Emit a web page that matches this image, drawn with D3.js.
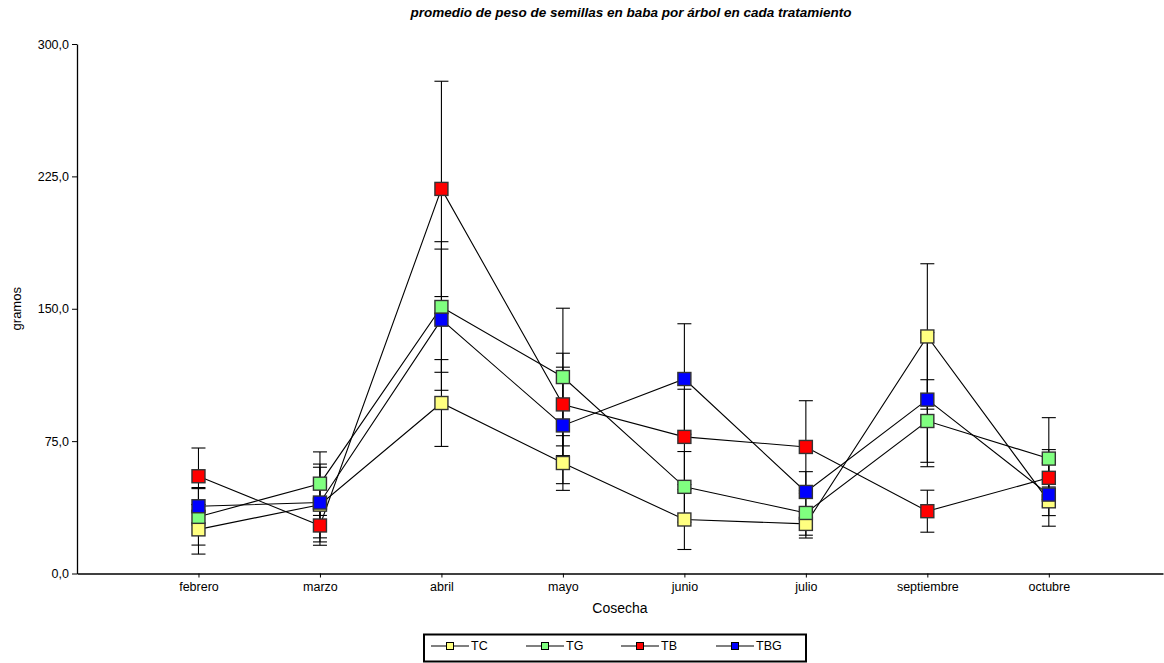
<!DOCTYPE html>
<html>
<head>
<meta charset="utf-8">
<script src="https://cdn.jsdelivr.net/npm/d3@7"></script>
<style>
  body { margin: 0; background: #fff; }
  svg { display: block; font-family: "Liberation Sans", Arial, sans-serif; }
</style>
</head>
<body>
<svg class="chart"></svg>
<script>
// Harvest months (x categories)
const months = ["febrero", "marzo", "abril", "mayo", "junio", "julio", "septiembre", "octubre"];

// Mean seed weight (g) per treatment, and error bar half-widths
const tcValues  = [25.0, 39.0, 96.6, 62.6, 30.6, 28.1, 134.3, 40.9];
const tcErrors  = [14.0, 23.0, 24.6, 15.5, 17.0, 8.0, 41.2, 8.1];
const tgValues  = [32.1, 50.9, 151.0, 111.3, 49.1, 34.3, 86.4, 65.1];
const tgErrors  = [16.0, 18.0, 37.0, 39.0, 20.0, 12.6, 23.4, 23.2];
const tbValues  = [55.1, 27.2, 217.9, 95.8, 77.4, 71.7, 35.3, 54.2];
const tbErrors  = [16.0, 9.3, 61.0, 29.0, 27.0, 26.2, 11.9, 16.0];
const tbgValues = [38.1, 40.2, 143.8, 83.9, 110.2, 46.2, 98.5, 44.7];
const tbgErrors = [10.6, 20.0, 40.0, 33.0, 31.3, 11.5, 38.0, 17.9];

const yTicks = [0, 75, 150, 225, 300];

const seriesNames = ["TC", "TG", "TB", "TBG"];
const seriesColors = ["#ffff80", "#80ff80", "#ff0000", "#0000ff"];

const series = [
  { name: "TC", values: tcValues, errors: tcErrors },
  { name: "TG", values: tgValues, errors: tgErrors },
  { name: "TB", values: tbValues, errors: tbErrors },
  { name: "TBG", values: tbgValues, errors: tbgErrors }
];

const width = 1164;
const height = 663;
const marginLeft = 77;
const axisRight = 1163;
const yTop = 44;
const yBottom = 573.5;

// x: months sit at positions 1..8 on a linear index scale
const x = d3.scaleLinear()
  .domain([0, 8.94])
  .range([marginLeft, axisRight]);

const y = d3.scaleLinear()
  .domain([0, 300])
  .range([yBottom, yTop]);

const color = d3.scaleOrdinal()
  .domain(seriesNames)
  .range(seriesColors);

const fmt = v => d3.format(".1f")(v).replace(".", ",");

const svg = d3.select("svg.chart")
  .attr("width", width)
  .attr("height", height)
  .attr("viewBox", `0 0 ${width} ${height}`);

// Title
svg.append("text")
  .attr("x", 631)
  .attr("y", 17)
  .attr("text-anchor", "middle")
  .style("font-size", "13.5px")
  .style("font-weight", "bold")
  .style("font-style", "italic")
  .text("promedio de peso de semillas en baba por árbol en cada tratamiento");

// Axes
svg.append("g")
  .attr("transform", `translate(0,${yBottom})`)
  .call(d3.axisBottom(x)
    .tickValues(d3.range(1, months.length + 1))
    .tickFormat(i => months[i - 1])
    .tickSize(4)
    .tickSizeOuter(0)
    .tickPadding(5))
  .call(g => g.select(".domain").attr("stroke", "#000").attr("stroke-width", 1.3))
  .call(g => g.selectAll("text").style("font-size", "12.5px").attr("fill", "#000"));

svg.append("g")
  .attr("transform", `translate(${marginLeft},0)`)
  .call(d3.axisLeft(y)
    .tickValues(yTicks)
    .tickFormat(fmt)
    .tickSize(5)
    .tickSizeOuter(0)
    .tickPadding(3))
  .call(g => g.select(".domain").attr("stroke", "#000").attr("stroke-width", 1.3))
  .call(g => g.selectAll("text").style("font-size", "12.5px").attr("fill", "#000"));

// Axis titles
svg.append("text")
  .attr("x", 620)
  .attr("y", 613)
  .attr("text-anchor", "middle")
  .style("font-size", "14px")
  .text("Cosecha");

svg.append("text")
  .attr("transform", `translate(21,${(yTop + yBottom) / 2}) rotate(-90)`)
  .attr("text-anchor", "middle")
  .style("font-size", "13px")
  .text("gramos");

const capHalf = 7;
const plot = svg.append("g");

// Error bars
series.forEach(s => {
  const g = plot.append("g")
    .attr("stroke", "#000")
    .attr("stroke-width", 1.1);
  s.values.forEach((v, i) => {
    const cx = x(i + 1);
    const lo = y(v - s.errors[i]);
    const hi = y(v + s.errors[i]);
    g.append("line").attr("x1", cx).attr("x2", cx).attr("y1", lo).attr("y2", hi);
    g.append("line").attr("x1", cx - capHalf).attr("x2", cx + capHalf).attr("y1", lo).attr("y2", lo);
    g.append("line").attr("x1", cx - capHalf).attr("x2", cx + capHalf).attr("y1", hi).attr("y2", hi);
  });
});

// Connecting lines
const line = d3.line()
  .x((d, i) => x(i + 1))
  .y(d => y(d));

plot.append("g")
  .attr("fill", "none")
  .attr("stroke", "#000")
  .attr("stroke-width", 1.1)
  .selectAll("path")
  .data(series)
  .join("path")
  .attr("d", d => line(d.values));

// Markers
const markerSize = 13;
series.forEach(s => {
  plot.append("g")
    .selectAll("rect")
    .data(s.values)
    .join("rect")
    .attr("x", (d, i) => x(i + 1) - markerSize / 2)
    .attr("y", d => y(d) - markerSize / 2)
    .attr("width", markerSize)
    .attr("height", markerSize)
    .attr("fill", color(s.name))
    .attr("stroke", "#333")
    .attr("stroke-width", 1.4);
});

// Legend
const legend = svg.append("g");
legend.append("rect")
  .attr("x", 424)
  .attr("y", 634.5)
  .attr("width", 382)
  .attr("height", 27)
  .attr("fill", "#fff")
  .attr("stroke", "#000")
  .attr("stroke-width", 2);

const legendItems = legend.selectAll("g.item")
  .data(seriesNames)
  .join("g")
  .attr("class", "item")
  .attr("transform", (d, i) => `translate(${431 + i * 95},646)`);

legendItems.append("line")
  .attr("x1", 0).attr("x2", 38)
  .attr("stroke", "#000")
  .attr("stroke-width", 1.1);

legendItems.append("rect")
  .attr("x", 15.5).attr("y", -3.5)
  .attr("width", 7).attr("height", 7)
  .attr("fill", d => color(d))
  .attr("stroke", "#000")
  .attr("stroke-width", 1);

legendItems.append("text")
  .attr("x", 40)
  .attr("dy", "0.35em")
  .style("font-size", "12.5px")
  .text(d => d);
</script>
</body>
</html>
